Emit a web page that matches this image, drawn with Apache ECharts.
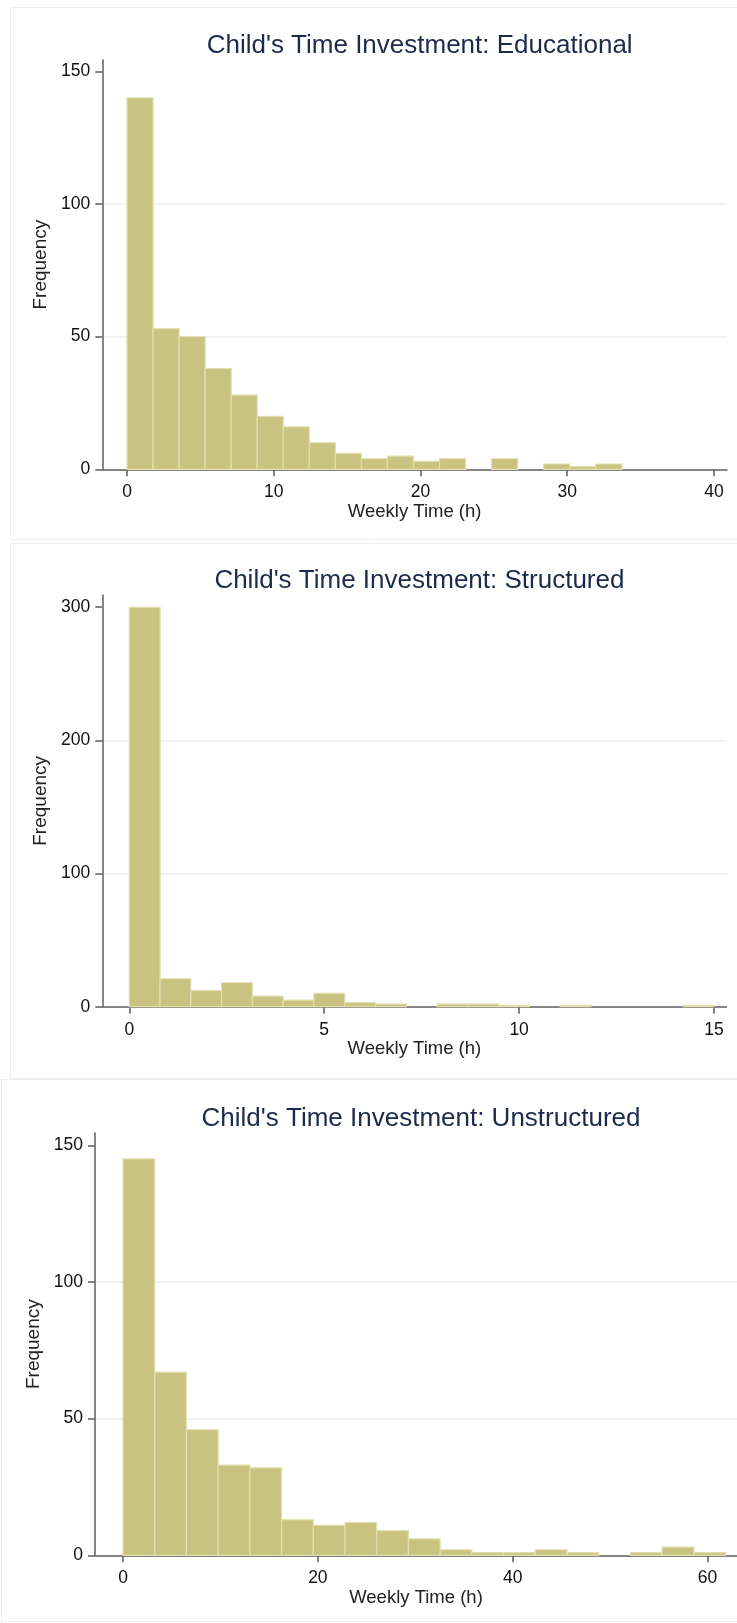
<!DOCTYPE html>
<html>
<head>
<meta charset="utf-8">
<script src="https://cdn.jsdelivr.net/npm/echarts@6/dist/echarts.min.js"></script>
<style>
html,body{margin:0;padding:0;background:#fff;}
#chart{width:737px;height:1623px;}
</style>
</head>
<body>
<div id="chart"></div>
<script>
// ---- Data ----
const titles = ["Child's Time Investment: Educational", "Child's Time Investment: Structured", "Child's Time Investment: Unstructured"];
const xAxisTitle = "Weekly Time (h)";
const yAxisTitle = "Frequency";

// Educational: 19 bins starting at 0
const eduBinStart = 0;
const eduBinWidth = 1.775;
const eduCounts = [140, 53, 50, 38, 28, 20, 16, 10, 6, 4, 5, 3, 4, 0, 4, 0, 2, 1, 2];
const eduXTicks = [0, 10, 20, 30, 40];
const eduYTicks = [0, 50, 100, 150];

// Structured: 19 bins starting at 0
const strBinStart = 0;
const strBinWidth = 0.7895;
const strCounts = [300, 21, 12, 18, 8, 5, 10, 3, 2, 0, 2, 2, 1, 0, 1, 0, 0, 0, 1];
const strXTicks = [0, 5, 10, 15];
const strYTicks = [0, 100, 200, 300];

// Unstructured: 19 bins starting at 0
const unsBinStart = 0;
const unsBinWidth = 3.255;
const unsCounts = [145, 67, 46, 33, 32, 13, 11, 12, 9, 6, 2, 1, 1, 2, 1, 0, 1, 3, 1];
const unsXTicks = [0, 20, 40, 60];
const unsYTicks = [0, 50, 100, 150];

// ---- Build bins ----
function bins(start, width, counts) {
  const out = [];
  counts.forEach((c, i) => {
    if (c > 0) out.push([start + i * width, start + (i + 1) * width, c]);
  });
  return out;
}

const FONT = "'Liberation Sans', Arial, sans-serif";
const BAR = '#c9c381';
const BAR_EDGE = '#e2dead';
const AXIS = '#5e5e5e';
const GRIDC = '#e9f1f3';

const panels = [
  { title: titles[0], titleY: 40.5, grid: { left: 102.3, top: 60, width: 624.7, height: 409.3 },
    x: [-1.683, 40.89], y: [0, 154.3], xt: eduXTicks, yt: eduYTicks, yi: 50,
    data: bins(eduBinStart, eduBinWidth, eduCounts) },
  { title: titles[1], titleY: 576, grid: { left: 102.3, top: 595, width: 624.2, height: 411.7 },
    x: [-0.692, 15.32], y: [0, 309.2], xt: strXTicks, yt: strYTicks, yi: 100,
    data: bins(strBinStart, strBinWidth, strCounts) },
  { title: titles[2], titleY: 1113.5, grid: { left: 95, top: 1133, width: 642, height: 422.3 },
    x: [-2.874, 63.02], y: [0, 154.5], xt: unsXTicks, yt: unsYTicks, yi: 50,
    data: bins(unsBinStart, unsBinWidth, unsCounts) }
];

const option = {
  backgroundColor: '#ffffff',
  animation: false,
  title: panels.map(p => ({
    text: p.title,
    left: p.grid.left + p.grid.width / 2,
    top: p.titleY,
    textAlign: 'center',
    textVerticalAlign: 'middle',
    textStyle: { fontFamily: FONT, fontSize: 26, fontWeight: 'normal', color: '#1c2b4b' }
  })),
  graphic: [
    { type: 'rect', shape: { x: 10.5, y: 7.5, width: 740, height: 532 }, style: { fill: 'none', stroke: '#eeeeee', lineWidth: 1 }, z: -1 },
    { type: 'rect', shape: { x: 10.5, y: 543.5, width: 740, height: 535 }, style: { fill: 'none', stroke: '#eeeeee', lineWidth: 1 }, z: -1 },
    { type: 'rect', shape: { x: 1.5, y: 1079.5, width: 740, height: 542 }, style: { fill: 'none', stroke: '#eeeeee', lineWidth: 1 }, z: -1 }
  ],
  grid: panels.map(p => Object.assign({ containLabel: false }, p.grid)),
  xAxis: panels.map((p, i) => ({
    type: 'value', gridIndex: i, min: p.x[0], max: p.x[1],
    name: xAxisTitle, nameLocation: 'middle', nameGap: 31,
    nameTextStyle: { fontFamily: FONT, fontSize: 18.5, color: '#222' },
    axisLine: { show: true, onZero: false, lineStyle: { color: AXIS, width: 1.5 } },
    axisTick: { show: true, length: 7, customValues: p.xt, lineStyle: { color: AXIS, width: 1.5 } },
    axisLabel: { customValues: p.xt, margin: 14, fontFamily: FONT, fontSize: 17.5, color: '#111' },
    splitLine: { show: false }
  })),
  yAxis: panels.map((p, i) => ({
    type: 'value', gridIndex: i, min: p.y[0], max: p.y[1], interval: p.yi,
    name: yAxisTitle, nameLocation: 'middle', nameGap: 51, nameRotate: 90,
    nameTextStyle: { fontFamily: FONT, fontSize: 19, color: '#222' },
    axisLine: { show: true, onZero: false, lineStyle: { color: AXIS, width: 1.5 } },
    axisTick: { show: true, length: 7, customValues: p.yt, lineStyle: { color: AXIS, width: 1.5 } },
    axisLabel: { customValues: p.yt, margin: 12, fontFamily: FONT, fontSize: 17.5, color: '#111' },
    splitLine: { show: true, showMinLine: false, showMaxLine: false, lineStyle: { color: GRIDC, width: 1.5 } }
  })),
  series: panels.map((p, i) => ({
    type: 'custom', xAxisIndex: i, yAxisIndex: i,
    data: p.data,
    encode: { x: [0, 1], y: 2 },
    renderItem: function (params, api) {
      const a = api.coord([api.value(0), api.value(2)]);
      const b = api.coord([api.value(1), 0]);
      return {
        type: 'rect',
        shape: { x: a[0], y: a[1], width: b[0] - a[0], height: b[1] - a[1] },
        style: { fill: BAR, stroke: BAR_EDGE, lineWidth: 1.2 }
      };
    }
  }))
};

const chart = echarts.init(document.getElementById('chart'), null, { renderer: 'canvas' });
chart.setOption(option);
</script>
</body>
</html>
